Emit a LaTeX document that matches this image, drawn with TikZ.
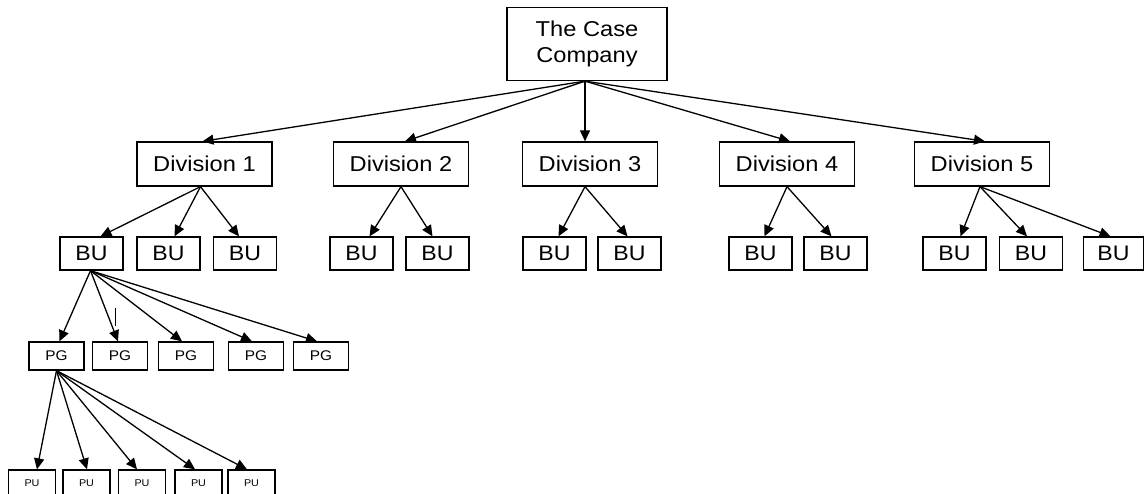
\documentclass[tikz,border=0pt]{standalone}
\usepackage{fontspec}
\setmainfont{Liberation Sans}[FakeStretch=1.1]
\usetikzlibrary{arrows.meta}

\tikzset{
  box/.style={draw=black, line width=1.3pt, fill=white, inner sep=0pt, align=center},
  topbox/.style={box, minimum width=160pt, minimum height=73pt, font=\fontsize{21.5}{26}\selectfont},
  divbox/.style={box, minimum width=135pt, minimum height=44pt, font=\fontsize{21.5}{26}\selectfont},
  bubox/.style={box, minimum width=63pt, minimum height=33pt, font=\fontsize{21}{24}\selectfont},
  pgbox/.style={box, minimum width=55pt, minimum height=28pt, font=\fontsize{14}{16}\selectfont},
  pubox/.style={box, minimum width=47pt, minimum height=26pt, font=\fontsize{9.8}{11}\selectfont},
  arr/.style={line width=1.3pt, -{Triangle[length=11pt, width=10pt]}},
}

\begin{document}
\begin{tikzpicture}[x=1pt, y=-1pt]
\useasboundingbox (0,0) rectangle (1144,494);
\clip (0,0) rectangle (1144,494);

% root
\node[topbox] (root) at (587,44) {The Case\\Company};

% divisions
\node[divbox] (d1) at (204.5,164) {Division 1};
\node[divbox] (d2) at (401,164) {Division 2};
\node[divbox] (d3) at (590,164) {Division 3};
\node[divbox] (d4) at (787,164) {Division 4};
\node[divbox] (d5) at (982,164) {Division 5};

% business units
\node[bubox] (b11) at (91.5,253.5) {BU};
\node[bubox] (b12) at (168.5,253.5) {BU};
\node[bubox] (b13) at (245,253.5) {BU};
\node[bubox] (b21) at (361.5,253.5) {BU};
\node[bubox] (b22) at (437.5,253.5) {BU};
\node[bubox] (b31) at (554.5,253.5) {BU};
\node[bubox] (b32) at (629.5,253.5) {BU};
\node[bubox] (b41) at (760.5,253.5) {BU};
\node[bubox] (b42) at (835.5,253.5) {BU};
\node[bubox] (b51) at (954.5,253.5) {BU};
\node[bubox] (b52) at (1031,253.5) {BU};
\node[bubox, minimum width=60pt] (b53) at (1113.5,253.5) {BU};

% product groups
\node[pgbox] (g1) at (56.5,356) {PG};
\node[pgbox] (g2) at (120,356) {PG};
\node[pgbox] (g3) at (186,356) {PG};
\node[pgbox] (g4) at (256,356) {PG};
\node[pgbox] (g5) at (321,356) {PG};

% product units
\node[pubox] (u1) at (32,483) {PU};
\node[pubox] (u2) at (86.5,483) {PU};
\node[pubox] (u3) at (142,483) {PU};
\node[pubox] (u4) at (198.5,483) {PU};
\node[pubox] (u5) at (251.5,483) {PU};

% root to divisions
\draw[arr] ([xshift=-2pt]root.south) -- ([xshift=-2pt]d1.north);
\draw[arr] ([xshift=-2pt]root.south) -- ([xshift=4pt]d2.north);
\draw[arr] ([xshift=-2pt]root.south) -- ([xshift=-5pt]d3.north);
\draw[arr] ([xshift=-2pt]root.south) -- ([xshift=3pt]d4.north);
\draw[arr] ([xshift=-2pt]root.south) -- ([xshift=3pt]d5.north);

% divisions to business units
\draw[arr] ([xshift=-4pt]d1.south) -- ([xshift=9pt]b11.north);
\draw[arr] ([xshift=-4pt]d1.south) -- ([xshift=6pt]b12.north);
\draw[arr] ([xshift=-4pt]d1.south) -- ([xshift=-6pt]b13.north);
\draw[arr] (d2.south) -- ([xshift=8pt]b21.north);
\draw[arr] (d2.south) -- ([xshift=-5pt]b22.north);
\draw[arr] ([xshift=-5pt]d3.south) -- ([xshift=4pt]b31.north);
\draw[arr] ([xshift=-5pt]d3.south) -- ([xshift=-2pt]b32.north);
\draw[arr] (d4.south) -- ([xshift=4pt]b41.north);
\draw[arr] (d4.south) -- ([xshift=-4pt]b42.north);
\draw[arr] ([xshift=-2pt]d5.south) -- ([xshift=6pt]b51.north);
\draw[arr] ([xshift=-2pt]d5.south) -- ([xshift=-4pt]b52.north);
\draw[arr] ([xshift=-2pt]d5.south) -- ([xshift=-3pt]b53.north);

% business unit to product groups
\draw[arr] ([xshift=-1pt]b11.south) -- ([xshift=3pt]g1.north);
\draw[arr] ([xshift=-1pt]b11.south) -- ([xshift=-2pt]g2.north);
\draw[arr] ([xshift=-1pt]b11.south) -- ([xshift=-4pt]g3.north);
\draw[arr] ([xshift=-1pt]b11.south) -- ([xshift=-4pt]g4.north);
\draw[arr] ([xshift=-1pt]b11.south) -- ([xshift=-4pt]g5.north);

% small stray stroke beside the second arrow
\draw[line width=1pt] (115,308) -- (115,326);

% product group to product units
\draw[arr] (g1.south) -- ([xshift=5pt]u1.north);
\draw[arr] (g1.south) -- ([xshift=0.5pt]u2.north);
\draw[arr] (g1.south) -- ([xshift=-5pt]u3.north);
\draw[arr] (g1.south) -- ([xshift=-3.5pt]u4.north);
\draw[arr] (g1.south) -- ([xshift=-4.5pt]u5.north);
\end{tikzpicture}
\end{document}
